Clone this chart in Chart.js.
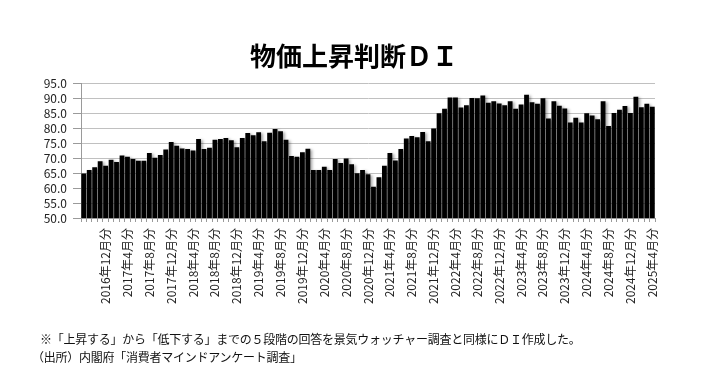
<!DOCTYPE html>
<html lang="ja">
<head>
<meta charset="utf-8">
<title>物価上昇判断ＤＩ</title>
<script src="https://cdn.jsdelivr.net/npm/chart.js@4.4.1/dist/chart.umd.min.js"></script>
<style>
  body { margin: 0; background: #fff; }
  #wrap { position: relative; width: 708px; height: 371px; overflow: hidden; font-family: "Noto Sans CJK JP", sans-serif; color: #000; }
  #chart { position: absolute; left: 0; top: 0; }
  .title { position: absolute; left: 0; top: 40px; width: 708px; text-align: center; font-size: 26px; font-weight: bold; line-height: 30px; }
  .note { position: absolute; font-size: 12px; line-height: 18px; white-space: nowrap; color: #111; letter-spacing: -0.25px; }
</style>
</head>
<body>
<div id="wrap">
  <canvas id="chart" width="708" height="371"></canvas>
  <div class="title">物価上昇判断ＤＩ</div>
  <div class="note" style="left:40px; top:330px;">※「上昇する」から「低下する」までの５段階の回答を景気ウォッチャー調査と同様にＤＩ作成した。</div>
  <div class="note" style="left:32px; top:348px;">（出所）内閣府「消費者マインドアンケート調査」</div>
</div>
<script>
// 2016年8月分 ～ 2025年4月分（月次）
const months = [];
for (let y = 2016; y <= 2025; y++) {
    for (let m = 1; m <= 12; m++) {
        if (y === 2016 && m < 8) continue;
        if (y === 2025 && m > 4) break;
        months.push(`${y}年${m}月分`);
    }
}

// 表示する目盛りラベル（4か月ごと）
const shownLabels = [
    '2016年12月分', '2017年4月分', '2017年8月分', '2017年12月分',
    '2018年4月分', '2018年8月分', '2018年12月分', '2019年4月分',
    '2019年8月分', '2019年12月分', '2020年4月分', '2020年8月分',
    '2020年12月分', '2021年4月分', '2021年8月分', '2021年12月分',
    '2022年4月分', '2022年8月分', '2022年12月分', '2023年4月分',
    '2023年8月分', '2023年12月分', '2024年4月分', '2024年8月分',
    '2024年12月分', '2025年4月分'
];

// 物価上昇判断DI
const diValues = [
    64.8, 66.0, 66.9, 68.9, 67.4, 69.4, 68.7, 70.8, 70.4, 69.7,
    69.1, 69.1, 71.7, 70.1, 71.0, 72.8, 75.3, 74.1, 73.2, 73.0,
    72.5, 76.3, 73.0, 73.4, 76.1, 76.3, 76.7, 75.9, 73.6, 76.7,
    78.3, 77.6, 78.6, 75.6, 78.4, 79.7, 78.9, 76.1, 70.7, 70.4,
    71.9, 73.1, 66.0, 66.0, 67.1, 66.0, 69.7, 68.3, 69.8, 67.9,
    64.9, 66.0, 64.6, 60.4, 63.6, 67.4, 71.7, 69.2, 73.0, 76.5,
    77.3, 76.9, 78.7, 75.6, 79.8, 84.9, 86.4, 90.2, 90.2, 86.8,
    87.6, 90.0, 89.9, 90.8, 88.4, 88.9, 88.2, 87.6, 88.9, 86.4,
    87.8, 91.1, 88.6, 88.1, 89.9, 83.2, 88.9, 87.4, 86.5, 81.8,
    83.4, 81.8, 84.9, 84.2, 82.9, 88.9, 80.7, 85.0, 86.1, 87.3,
    85.0, 90.4, 86.9, 88.1, 87.1
];

const yTicks = [50, 55, 60, 65, 70, 75, 80, 85, 90, 95];

// 棒の影（Excel風）
const barShadow = {
    id: 'barShadow',
    beforeDatasetsDraw(chart) {
        const ctx = chart.ctx;
        ctx.save();
        ctx.shadowColor = 'rgba(0,0,0,0.35)';
        ctx.shadowBlur = 3;
        ctx.shadowOffsetX = 2;
        ctx.shadowOffsetY = 1;
    },
    afterDatasetsDraw(chart) {
        chart.ctx.restore();
    }
};

const ctx = document.getElementById('chart').getContext('2d');
new Chart(ctx, {
    type: 'bar',
    data: {
        labels: months,
        datasets: [{
            label: '物価上昇判断DI',
            data: diValues,
            backgroundColor: '#000',
            borderWidth: 0,
            barPercentage: 0.88,
            categoryPercentage: 1.0
        }]
    },
    options: {
        responsive: false,
        animation: false,
        layout: { padding: { top: 83, right: 53, bottom: 0, left: 0 } },
        plugins: {
            legend: { display: false },
            title: { display: false },
            tooltip: { enabled: false }
        },
        scales: {
            x: {
                offset: true,
                grid: {
                    offset: true,
                    drawOnChartArea: false,
                    drawTicks: true,
                    tickLength: 4,
                    color: '#9a9a9a'
                },
                border: { display: true, color: '#9a9a9a' },
                ticks: {
                    autoSkip: false,
                    minRotation: 90,
                    maxRotation: 90,
                    padding: 6,
                    color: '#222',
                    font: { family: '"Noto Sans CJK JP", sans-serif', size: 12 },
                    callback: function (value) {
                        const lbl = this.getLabelForValue(value);
                        return shownLabels.includes(lbl) ? lbl : '';
                    }
                },
                afterFit(scale) { scale.height = 153; }
            },
            y: {
                min: 50,
                max: 95,
                afterBuildTicks(scale) { scale.ticks = yTicks.map(v => ({ value: v })); },
                grid: { color: '#c0c0c0', tickLength: 8, tickColor: '#9a9a9a' },
                border: { display: true, color: '#9a9a9a' },
                ticks: {
                    autoSkip: false,
                    padding: 6,
                    color: '#222',
                    font: { family: '"Noto Sans CJK JP", sans-serif', size: 12 },
                    callback: (v) => Number(v).toFixed(1)
                },
                afterFit(scale) { scale.width = 81; }
            }
        }
    },
    plugins: [barShadow]
});
</script>
</body>
</html>
